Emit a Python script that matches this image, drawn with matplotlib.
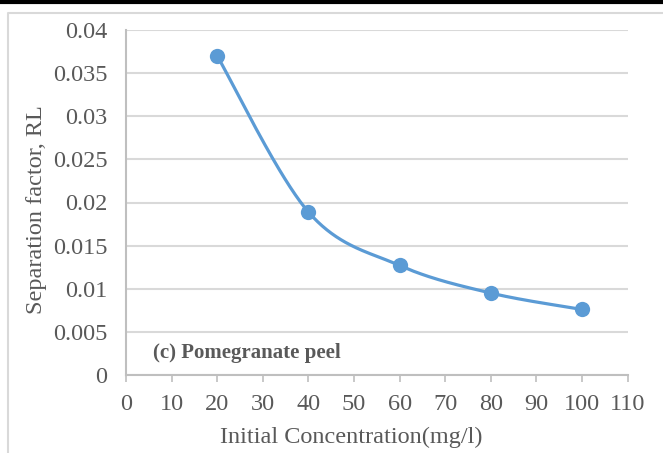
import matplotlib.pyplot as plt
import numpy as np
from matplotlib.lines import Line2D

# initial concentration (mg/l) and separation factor RL
conc = [20, 40, 60, 80, 100]
rl = [0.0370, 0.0189, 0.0127, 0.0095, 0.0076]

x_ticks = [0, 10, 20, 30, 40, 50, 60, 70, 80, 90, 100, 110]
y_ticks = [0, 0.005, 0.01, 0.015, 0.02, 0.025, 0.03, 0.035, 0.04]
y_tick_labels = ['0', '0.005', '0.01', '0.015', '0.02', '0.025', '0.03', '0.035', '0.04']

blue = '#5B9BD5'
grey_text = '#595959'

plt.rcParams['font.family'] = ['Liberation Serif', 'DejaVu Serif']

W, H = 663, 453
fig = plt.figure(figsize=(W / 100, H / 100), dpi=100)
ax = fig.add_axes([126 / W, 78 / H, (627.6 - 126) / W, (375 - 30) / H])

ax.set_xlim(0, 110)
ax.set_ylim(0, 0.04)
ax.set_xticks(x_ticks)
ax.set_yticks(y_ticks)
ax.set_yticklabels(y_tick_labels)

ax.grid(axis='y', color='#D9D9D9', linewidth=1.5)
ax.set_axisbelow(True)
for s in ['top', 'right']:
    ax.spines[s].set_visible(False)
for s in ['left', 'bottom']:
    ax.spines[s].set_color('#BFBFBF')
    ax.spines[s].set_linewidth(1.5)

ax.tick_params(axis='x', length=5, width=1.2, color='#BFBFBF', pad=9,
               labelsize=17.5, labelcolor=grey_text)
ax.tick_params(axis='y', length=0, pad=13.5, labelsize=17.5, labelcolor=grey_text)

# smoothed line (cardinal spline with 1/6 tangents, in pixel space)
fig.canvas.draw()
pts = ax.transData.transform(np.column_stack([conc, rl]))
ext = np.vstack([pts[0], pts, pts[-1]])
curve = []
t = np.linspace(0, 1, 60)[:, None]
for i in range(len(pts) - 1):
    p0, p1, p2, p3 = ext[i], ext[i + 1], ext[i + 2], ext[i + 3]
    c1 = p1 + (p2 - p0) / 6
    c2 = p2 - (p3 - p1) / 6
    seg = ((1 - t) ** 3) * p1 + 3 * ((1 - t) ** 2) * t * c1 + 3 * (1 - t) * t ** 2 * c2 + t ** 3 * p2
    curve.append(seg)
curve = ax.transData.inverted().transform(np.vstack(curve))
ax.plot(curve[:, 0], curve[:, 1], color=blue, linewidth=2.3, solid_capstyle='round')
ax.plot(conc, rl, 'o', color=blue, markersize=11, markeredgewidth=0)

fig.text(153 / W, 1 - 353 / H, '(c) Pomegranate peel', fontsize=15, fontweight='bold',
         color=grey_text, va='center', ha='left')

fig.text(351.5 / W, 1 - 437 / H, 'Initial Concentration(mg/l)', fontsize=17.5,
         color=grey_text, ha='center', va='center')
fig.text(37 / W, 1 - 210 / H, 'Separation factor, RL', fontsize=17.5,
         color=grey_text, ha='center', va='center', rotation=90)

# chart frame
fig.add_artist(Line2D([0, 1], [1 - 1.5 / H, 1 - 1.5 / H], color='black', linewidth=3))
fig.add_artist(Line2D([7.5 / W, 7.5 / W, 1], [0, 1 - 12.5 / H, 1 - 12.5 / H],
                      color='#D9D9D9', linewidth=1.5))

fig.savefig('out.png', dpi=100)
